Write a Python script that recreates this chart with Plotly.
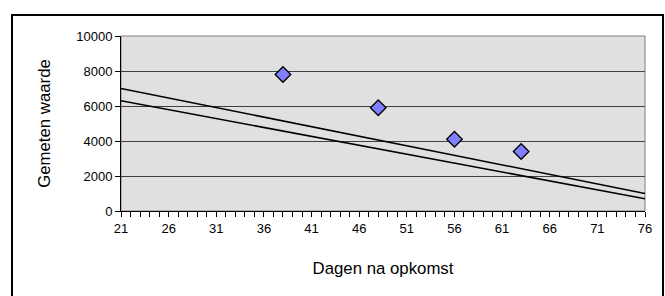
import plotly.graph_objects as go

# Data
meas_days = [38, 48, 56, 63]
meas_values = [7800, 5900, 4100, 3400]
line_days = [21, 76]
upper_line = [7000, 1000]
lower_line = [6300, 700]
x_tick_vals = [21, 26, 31, 36, 41, 46, 51, 56, 61, 66, 71, 76]
y_tick_vals = [0, 2000, 4000, 6000, 8000, 10000]
y_tick_text = ["0", "2000", "4000", "6000", "8000", "10000"]

fig = go.Figure()
fig.add_trace(go.Scatter(x=line_days, y=upper_line, mode="lines",
                         line=dict(color="black", width=1.6), showlegend=False))
fig.add_trace(go.Scatter(x=line_days, y=lower_line, mode="lines",
                         line=dict(color="black", width=1.6), showlegend=False))
fig.add_trace(go.Scatter(x=meas_days, y=meas_values, mode="markers",
                         marker=dict(symbol="diamond", size=12, color="#7f7fff",
                                     line=dict(color="black", width=1.3)),
                         showlegend=False))

W, H = 665, 296
L, T, R, B = 121, 36, 20, 85
pw, ph = W - L - R, H - T - B

def px(x):
    return (x - L) / pw

def py(y):
    return (H - B - y) / ph

fig.update_layout(
    width=W, height=H,
    margin=dict(l=L, r=R, t=T, b=B, autoexpand=False),
    paper_bgcolor="white",
    plot_bgcolor="#e0e0e0",
    font=dict(family="Liberation Sans, Arial, sans-serif", color="black", size=13),
    shapes=[
        dict(type="rect", xref="paper", yref="paper", x0=0, x1=1, y0=0, y1=1,
             line=dict(color="#808080", width=1), layer="below"),
        dict(type="rect", xref="paper", yref="paper",
             x0=px(12), x1=px(663), y0=py(300), y1=py(15),
             line=dict(color="black", width=2)),
    ],
)
fig.update_xaxes(
    range=[21, 76], tickvals=x_tick_vals, ticks="outside", ticklen=5,
    tickcolor="black", showgrid=False, zeroline=False,
    showline=True, linecolor="black", linewidth=1,
    minor=dict(dtick=1, tick0=21, ticks="outside", ticklen=5, tickcolor="black", showgrid=False),
    tickfont=dict(size=13),
    title=dict(text="Dagen na opkomst", font=dict(size=16.8), standoff=27),
)
fig.update_yaxes(
    range=[0, 10000], tickvals=y_tick_vals, ticktext=y_tick_text,
    ticks="outside", ticklen=5,
    tickcolor="black", showgrid=True, gridcolor="#404040", gridwidth=1,
    zeroline=False, showline=True, linecolor="black", linewidth=1,
    tickfont=dict(size=13),
    title=dict(text="Gemeten waarde", font=dict(size=16.8), standoff=21),
)

fig.write_html(
    "out.html",
    config={"displayModeBar": False},
    post_script="document.body.style.margin='0';document.body.style.overflow='hidden';",
)
